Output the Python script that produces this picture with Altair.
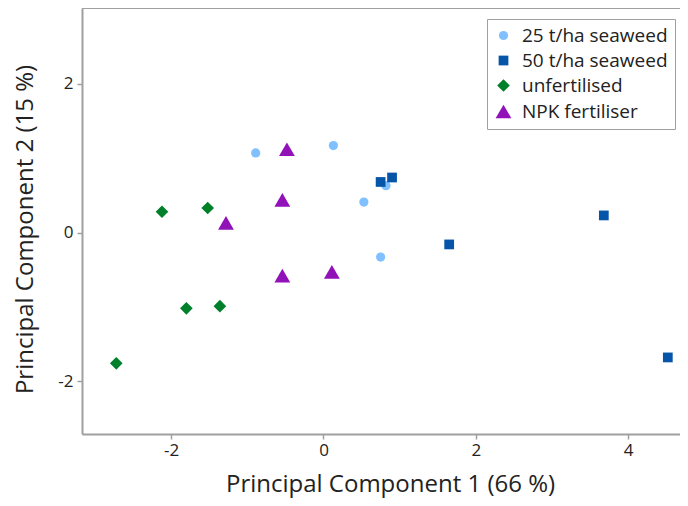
import altair as alt
import pandas as pd

groups = ["25 t/ha seaweed", "50 t/ha seaweed", "unfertilised", "NPK fertiliser"]
colors = ["#80c0ff", "#0655a8", "#00802a", "#9012b8"]
shapes = ["circle", "square", "diamond", "triangle-up"]
sizes = [85, 95, 160, 250]

pc1_25 = [-0.89, 0.13, 0.53, 0.82, 0.75]
pc2_25 = [1.07, 1.17, 0.41, 0.63, -0.33]
pc1_50 = [0.75, 0.90, 1.65, 3.68, 4.52]
pc2_50 = [0.68, 0.74, -0.16, 0.23, -1.68]
pc1_un = [-2.12, -1.52, -1.80, -1.36, -2.72]
pc2_un = [0.28, 0.33, -1.02, -0.99, -1.76]
pc1_npk = [-0.48, -0.54, -1.28, -0.54, 0.11]
pc2_npk = [1.12, 0.44, 0.13, -0.58, -0.53]

rows = []
for g, xs, ys in zip(groups, [pc1_25, pc1_50, pc1_un, pc1_npk], [pc2_25, pc2_50, pc2_un, pc2_npk]):
    for x, y in zip(xs, ys):
        rows.append({"group": g, "pc1": x, "pc2": y})
df = pd.DataFrame(rows)

FONT = "Open Sans"
GRAY = "#a0a0a0"
W, H = 598, 426
LBL = "datum.value < 0 ? '-' + abs(datum.value) : '' + datum.value"

points = alt.Chart(df).mark_point(filled=True, opacity=1).encode(
    x=alt.X("pc1:Q", scale=alt.Scale(domain=[-3.17, 4.68], nice=False, zero=False),
            axis=alt.Axis(values=[-2, 0, 2, 4], title="Principal Component 1 (66 %)",
                          labelExpr=LBL,
                          grid=False, domainColor=GRAY, domainWidth=2, tickColor=GRAY,
                          tickSize=5, tickWidth=1.5, labelPadding=3, labelFontSize=17,
                          labelColor="#222", titleFontSize=24, titleFontWeight="normal",
                          titleColor="#222", titleBaseline="alphabetic", titleY=57, titleX=308,
                          labelFont=FONT, titleFont=FONT)),
    y=alt.Y("pc2:Q", scale=alt.Scale(domain=[-2.71, 3.02], nice=False, zero=False),
            axis=alt.Axis(values=[-2, 0, 2], title="Principal Component 2 (15 %)",
                          labelExpr=LBL,
                          grid=False, domainColor=GRAY, domainWidth=2, tickColor=GRAY,
                          tickSize=5, tickWidth=1.5, labelPadding=4, labelFontSize=17,
                          labelColor="#222", titleFontSize=24, titleFontWeight="normal",
                          titleColor="#222", titleBaseline="alphabetic", titleX=-50, titleY=221,
                          labelFont=FONT, titleFont=FONT)),
    color=alt.Color("group:N", scale=alt.Scale(domain=groups, range=colors),
                    legend=alt.Legend(title=None, orient="none", legendX=405, legendY=11,
                                      strokeColor=GRAY, padding=7,
                                      labelFontSize=19, labelFont=FONT, labelColor="#222",
                                      rowPadding=5, symbolOpacity=1, labelOffset=9,
                                      fillColor="white")),
    shape=alt.Shape("group:N", scale=alt.Scale(domain=groups, range=shapes)),
    size=alt.Size("group:N", scale=alt.Scale(type="ordinal", domain=groups, range=sizes)),
)

top_line = alt.Chart(df).mark_rule(color=GRAY, strokeWidth=2).encode(
    x=alt.value(0), x2=alt.value(W + 10), y=alt.value(0)
)

chart = alt.layer(top_line, points).properties(
    width=W, height=H,
    autosize=alt.AutoSizeParams(type="none"),
    padding={"left": 74, "top": 0, "right": 0, "bottom": 64},
).configure_view(stroke=None).configure_legend(strokeWidth=2).configure(background="white")

chart.save("out.html", embed_options={"renderer": "svg", "actions": False})
